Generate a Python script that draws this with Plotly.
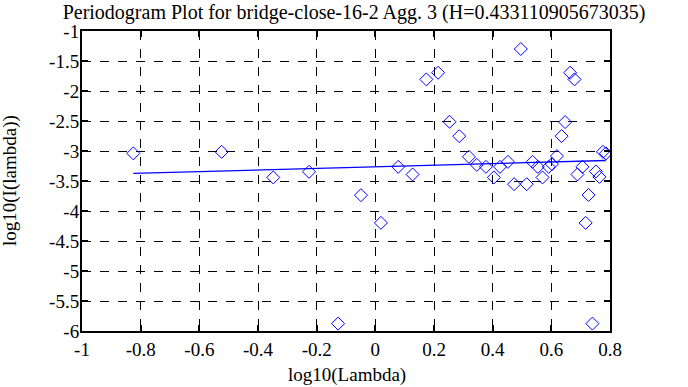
import plotly.graph_objects as go

log_lambda = [-0.825, -0.524, -0.348, -0.226, -0.127, -0.049, 0.019, 0.078, 0.127,
              0.174, 0.214, 0.253, 0.286, 0.319, 0.346, 0.377, 0.404, 0.425, 0.452,
              0.473, 0.496, 0.516, 0.536, 0.554, 0.570, 0.591, 0.602, 0.619, 0.635,
              0.647, 0.664, 0.679, 0.689, 0.706, 0.717, 0.727, 0.740, 0.752, 0.764,
              0.776, 0.786]
log_I = [-3.040, -3.014, -3.441, -3.347, -5.877, -3.736, -4.198, -3.264, -3.391,
         -1.806, -1.696, -2.513, -2.752, -3.097, -3.231, -3.264, -3.441, -3.264, -3.181,
         -3.553, -1.300, -3.553, -3.181, -3.264, -3.441, -3.264, -3.219, -3.085, -2.752,
         -2.518, -1.696, -1.806, -3.391, -3.264, -4.198, -3.733, -5.877, -3.341, -3.431,
         -3.014, -3.040]
fit_x = [-0.825, 0.786]
fit_y = [-3.374, -3.158]

x_ticks = [-1, -0.8, -0.6, -0.4, -0.2, 0, 0.2, 0.4, 0.6, 0.8]
y_ticks = [-1, -1.5, -2, -2.5, -3, -3.5, -4, -4.5, -5, -5.5, -6]

font = "Liberation Serif"

fig = go.Figure()
fig.add_trace(go.Scatter(x=log_lambda, y=log_I, mode="markers",
                         marker=dict(symbol="diamond-open", size=10, color="#0000ff",
                                     line=dict(width=1, color="#0000ff")),
                         showlegend=False))
fig.add_trace(go.Scatter(x=fit_x, y=fit_y, mode="lines",
                         line=dict(color="#0000ff", width=1.3), showlegend=False))

axis_common = dict(showline=True, linecolor="black", linewidth=2, mirror="ticks",
                   ticks="inside", ticklen=6, tickwidth=2, tickcolor="black",
                   showgrid=True, gridcolor="black", griddash="dash", gridwidth=1,
                   zeroline=False, automargin=False,
                   tickfont=dict(family=font, size=19, color="black"))

fig.update_xaxes(range=[-1, 0.8], tickvals=x_ticks,
                 ticktext=[str(v) for v in x_ticks],
                 **axis_common)
fig.update_yaxes(range=[-6, -1], tickvals=y_ticks,
                 ticktext=[str(v) for v in y_ticks],
                 **axis_common)
try:
    fig.update_yaxes(ticklabelstandoff=-3)
except Exception:
    pass

fig.add_annotation(text="log10(I(lambda))", textangle=-90, xref="paper", yref="paper",
                   x=(10 - 82) / 528, y=0.5, xanchor="center", yanchor="middle",
                   showarrow=False, font=dict(family=font, size=19, color="black"))
fig.add_annotation(text="log10(Lambda)", xref="paper", yref="paper",
                   x=(347 - 82) / 528, y=(387 - 56 - 375) / 300,
                   xanchor="center", yanchor="middle",
                   showarrow=False, font=dict(family=font, size=19, color="black"))

fig.update_layout(
    width=688, height=387,
    margin=dict(l=82, r=78, t=31, b=56, autoexpand=False),
    paper_bgcolor="white", plot_bgcolor="white",
    title=dict(text="Periodogram Plot for bridge-close-16-2 Agg. 3 (H=0.433110905673035)",
               x=354 / 688, xanchor="center", y=1 - 11.5 / 387, yanchor="middle",
               font=dict(family=font, size=20, color="black")),
)

fig.write_html("out.html", config={"displayModeBar": False},
               post_script="document.body.style.margin='0px';")
